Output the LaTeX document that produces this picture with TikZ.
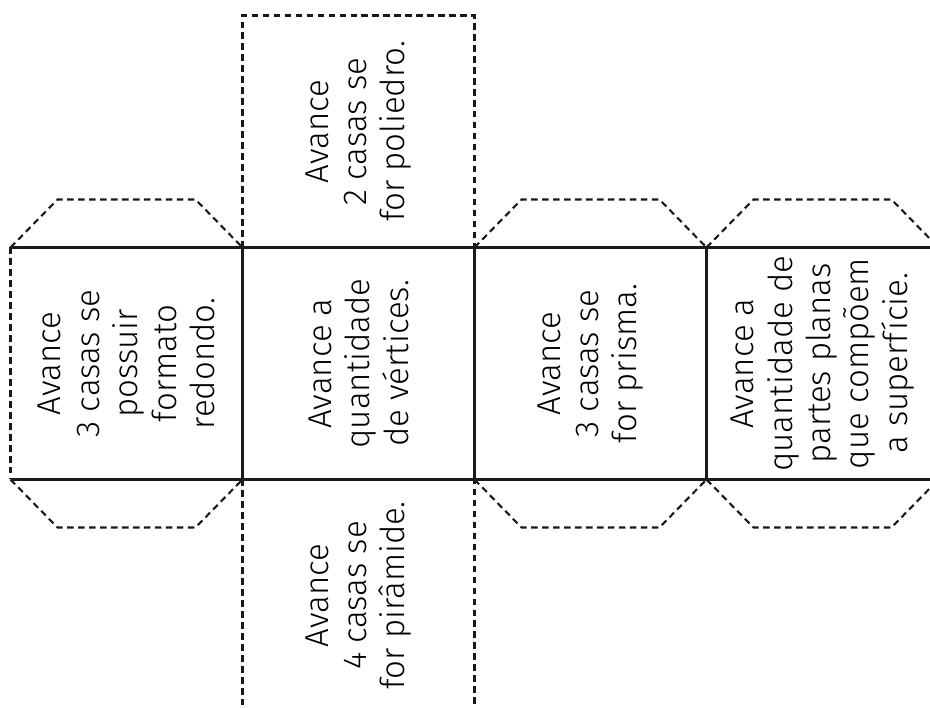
\documentclass[tikz,border=0pt]{standalone}
\usepackage{fontspec}
\setmainfont{Fira Sans}[UprightFont={* Light}]
\usetikzlibrary{positioning}

\tikzset{
  fold/.style={line width=1.6pt, black!90},
  cut/.style={line width=1.5pt, black!90, dash pattern=on 4.7pt off 3.1pt},
  facetext/.style={rotate=90, align=center, font=\fontsize{23.5}{27.3}\selectfont}
}

\begin{document}
\begin{tikzpicture}[x=0.025cm, y=-0.025cm]

% Page frame (reference size 930 x 708)
\useasboundingbox (0,0) rectangle (930,708);
\clip (0,0) rectangle (930,708);

% Face geometry
\def\side{232}
\def\top{247.5}
\def\bot{479.5}
\def\tab{48}    % height of the trapezoid tabs
\def\ins{47}    % inset of the tabs

% Fold lines (solid)
\draw[fold] (10.5,\top) -- (940,\top);
\draw[fold] (10.5,\bot) -- (940,\bot);
\foreach \x in {242.5, 474.5, 706.5} {
    \draw[fold] (\x,\top) -- (\x,\bot);
}

% Left edge of first face
\draw[cut] (10.5,\top) -- (10.5,\bot);

% Square flaps above and below the second face
\draw[cut] (242.5,\top) -- (242.5,\top-\side) -- (474.5,\top-\side) -- (474.5,\top);
\draw[cut] (242.5,\bot) -- (242.5,\bot+\side) -- (474.5,\bot+\side) -- (474.5,\bot);

% Trapezoid tabs on faces 1, 3 and 4
\foreach \x in {10.5, 474.5, 706.5} {
    \draw[cut] (\x,\top) -- (\x+\ins,\top-\tab) -- (\x+\side-\ins,\top-\tab) -- (\x+\side,\top);
    \draw[cut] (\x,\bot) -- (\x+\ins,\bot+\tab) -- (\x+\side-\ins,\bot+\tab) -- (\x+\side,\bot);
}

% Face texts
\node[facetext] (redondo) at (126.5,363.5) {Avance\\3 casas se\\possuir\\formato\\redondo.};
\node[facetext] (vertices) at (358.5,363.5) {Avance a\\quantidade\\de vértices.};
\node[facetext] (prisma) at (590.5,363.5) {Avance\\3 casas se\\for prisma.};
\node[facetext] (superficie) at (822.5,363.5) {Avance a\\quantidade de\\partes planas\\que compõem\\a superfície.};
\node[facetext] (poliedro) at (358.5,131.5) {Avance\\2 casas se\\for poliedro.};
\node[facetext] (piramide) at (358.5,595.5) {Avance\\4 casas se\\for pirâmide.};

\end{tikzpicture}
\end{document}
